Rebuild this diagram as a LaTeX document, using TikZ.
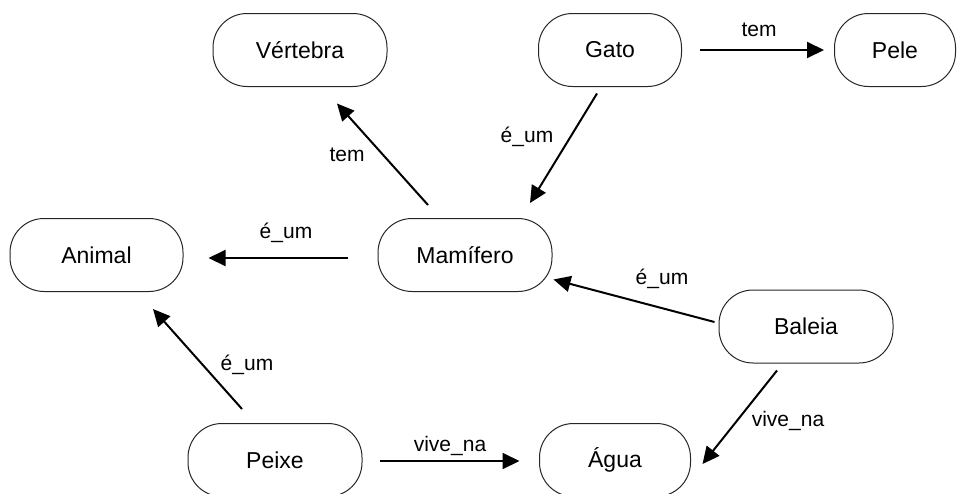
\documentclass[tikz,border=0pt]{standalone}
\usepackage{fontspec}
\setmainfont{Liberation Sans}
\usetikzlibrary{arrows.meta,calc}
\begin{document}
\begin{tikzpicture}[x=1pt,y=-1pt,
  concept/.style={draw=black!85,line width=1pt,rounded corners=34pt,minimum height=73pt,inner sep=0pt,font=\fontsize{23}{27}\selectfont},
  rel/.style={line width=2pt,-{Triangle[length=17pt,width=16pt]}},
  lbl/.style={font=\fontsize{21}{25}\selectfont,inner sep=0pt}]
\useasboundingbox (0,0) rectangle (960,493);
\node[concept,minimum width=174pt] (vert) at (300,50) {Vértebra};
\node[concept,minimum width=143pt] (gato) at (610,50) {Gato};
\node[concept,minimum width=121pt] (pele) at (895,50) {Pele};
\node[concept,minimum width=173pt] (animal) at (96.5,255) {Animal};
\node[concept,minimum width=174pt] (mam) at (465,255) {Mamífero};
\node[concept,minimum width=174pt] (baleia) at (806,326.5) {Baleia};
\node[concept,minimum width=174pt] (peixe) at (275,460) {Peixe};
\node[concept,minimum width=151pt] (agua) at (615,460) {Água};

\draw[rel] ($(gato.east)+(18,0)$) -- ($(pele.west)+(-10,0)$);
\draw[rel] ($(mam.north)+(-37,-13)$) -- ($(vert.south)+(37,16.5)$);
\draw[rel] ($(gato.south)+(-13,6.5)$) -- ($(mam.north)+(65,-15)$);
\draw[rel] ($(mam.west)+(-30,3)$) -- ($(animal.east)+(25,3)$);
\draw[rel] ($(baleia.west)+(-4,-4.5)$) -- ($(mam.south east)+(1,-12.5)$);
\draw[rel] ($(baleia.south)+(-29,7)$) -- ($(agua.east)+(11.5,4)$);
\draw[rel] ($(peixe.north)+(-33,-14)$) -- ($(animal.south)+(56.5,17)$);
\draw[rel] ($(peixe.east)+(17,1)$) -- ($(agua.west)+(-19.5,1)$);

\node[lbl] (l1) at (759,30) {tem};
\node[lbl] (l2) at (347,155) {tem};
\node[lbl] (l3) at (527,137) {é\_um};
\node[lbl] (l4) at (286,233) {é\_um};
\node[lbl] (l5) at (662,279) {é\_um};
\node[lbl] (l6) at (788,421) {vive\_na};
\node[lbl] (l7) at (247,365) {é\_um};
\node[lbl] (l8) at (450,446) {vive\_na};
\end{tikzpicture}
\end{document}
